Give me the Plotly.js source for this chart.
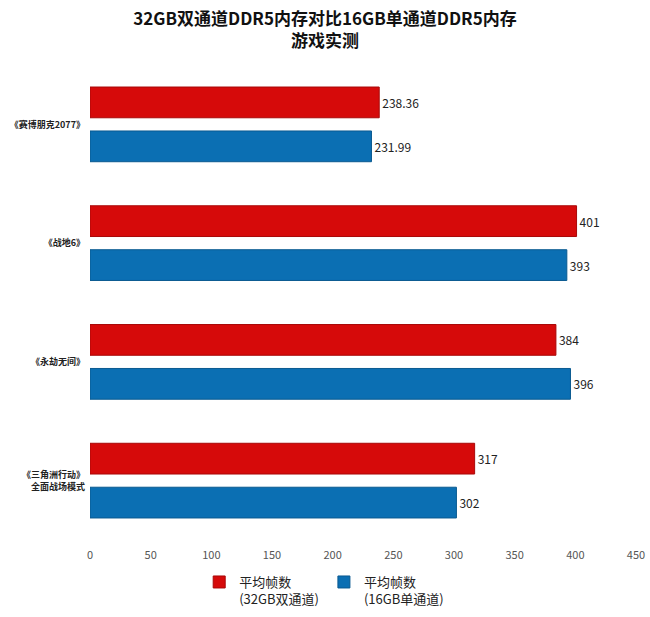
<!DOCTYPE html>
<html>
<head>
<meta charset="utf-8">
<script src="https://cdn.plot.ly/plotly-3.0.1.min.js"></script>
<style>html,body{margin:0;padding:0;background:#fff;}#chart{width:650px;height:617px;}</style>
</head>
<body>
<div id="chart"></div>
<script>
const games = ["《赛博朋克2077》", "《战地6》", "《永劫无间》", "《三角洲行动》<br>全面战场模式"];
const dualChannel = [238.36, 401, 384, 317];
const singleChannel = [231.99, 393, 396, 302];
const seriesNames = ["平均帧数<br>(32GB双通道)", "平均帧数<br>(16GB单通道)"];

const fontFamily = '"Noto Sans CJK SC", "Noto Sans", sans-serif';

const traces = [
  {
    type: 'bar', orientation: 'h', name: seriesNames[0],
    y: games, x: dualChannel,
    text: dualChannel.map(String), textposition: 'outside',
    textfont: {size: 12, color: '#222'},
    marker: {color: '#d60a0a', line: {color: '#a80808', width: 1}},
    cliponaxis: false
  },
  {
    type: 'bar', orientation: 'h', name: seriesNames[1],
    y: games, x: singleChannel,
    text: singleChannel.map(String), textposition: 'outside',
    textfont: {size: 12, color: '#222'},
    marker: {color: '#0b6fb3', line: {color: '#0a5a90', width: 1}},
    cliponaxis: false
  }
];

const layout = {
  width: 650, height: 617,
  paper_bgcolor: '#ffffff', plot_bgcolor: '#ffffff',
  font: {family: fontFamily, color: '#333'},
  title: {
    text: '<b>32GB双通道DDR5内存对比16GB单通道DDR5内存<br>游戏实测</b>',
    x: 0.5, xanchor: 'center', yref: 'container', y: 0.959, yanchor: 'middle',
    font: {size: 17, color: '#111', family: fontFamily}
  },
  margin: {l: 90, r: 14, t: 65, b: 77},
  barmode: 'group', bargap: 0.26, bargroupgap: 0.3,
  xaxis: {
    range: [0, 450], dtick: 50, showgrid: false, zeroline: false,
    showline: false, ticks: '', tickfont: {size: 11, color: '#555'},
    ticklabelstandoff: 7, automargin: false
  },
  yaxis: {
    autorange: 'reversed', showgrid: false, showline: false, ticks: '',
    tickmode: 'array', tickvals: games, ticktext: games.map(g => '<b>' + g + '</b>'),
    tickfont: {size: 9, color: '#222'}, ticklabelstandoff: 4, automargin: false
  },
  legend: {
    orientation: 'h', x: 0.2, xanchor: 'left',
    yref: 'container', y: 0.081, yanchor: 'top', valign: 'top',
    font: {size: 13, color: '#222'}, itemwidth: 30, tracegroupgap: 0
  },
  showlegend: true
};

Plotly.newPlot('chart', traces, layout, {displayModeBar: false, staticPlot: true});
</script>
</body>
</html>
